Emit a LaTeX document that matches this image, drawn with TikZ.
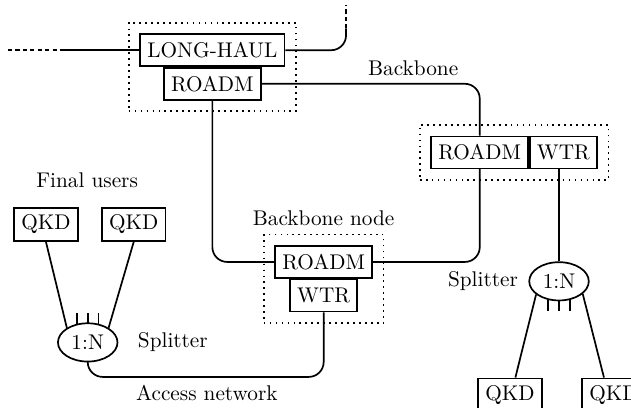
\documentclass[tikz,border=0pt]{standalone}
\usetikzlibrary{positioning,fit,shapes.geometric,calc}
\tikzset{
    dev/.style={draw, thick, minimum height=15pt},
    split/.style={draw, thick, ellipse, inner sep=1pt, minimum width=28pt, minimum height=18pt},
    site/.style={draw, thick, dotted, inner sep=5pt},
    fiber/.style={thick, rounded corners=7pt},
    cut/.style={thick, dash pattern=on 2pt off 1.5pt},
}
\begin{document}
    \begin{tikzpicture}
        \useasboundingbox (0,0) rectangle (10.43,6.73);
        \clip (0,0) rectangle (10.43,6.73);

        % long-haul site
        \node[dev] (lh) at (3.51,5.90) {LONG-HAUL};
        \node[dev, below=0pt of lh] (r1) {ROADM};
        \node[site, fit=(lh) (r1)] (f1) {};

        % backbone sites
        \node[dev] (r2) at (7.93,4.21) {ROADM};
        \node[dev, right=0pt of r2] (w2) {WTR};
        \node[site, fit=(r2) (w2)] (f2) {};
        \node[dev] (r3) at (5.35,2.40) {ROADM};
        \node[dev, below=0pt of r3] (w3) {WTR};
        \node[site, fit=(r3) (w3)] (f3) {};
        \node[above=0pt of f3] (bbn) {Backbone node};
        \node (bb) at (6.83,5.60) {Backbone};

        % access side
        \node[split] (s1) at (1.45,1.07) {1:N};
        \node[split] (s2) at (9.24,2.08) {1:N};
        \node[right=0.2cm of s1] (sp1) {Splitter};
        \node[left=0.05cm of s2] (sp2) {Splitter};
        \node[dev] (q1) at (0.76,3.02) {QKD};
        \node[dev] (q2) at (2.21,3.02) {QKD};
        \node[dev] (q3) at (8.43,0.20) {QKD};
        \node[dev] (q4) at (10.15,0.20) {QKD};
        \node (fu) at (1.44,3.75) {Final users};
        \node (an) at (3.42,0.23) {Access network};

        \coordinate (far) at (0.13,5.90);
        \coordinate (near) at (0.99,5.90);
        \coordinate (up) at (5.72,6.26);
        \coordinate (upend) at (5.72,6.64);
        \coordinate (acc) at (1.45,0.50);

        \draw[cut] (far) -- (near);
        \draw[thick] (near) -- (lh.west);
        \draw[fiber] (lh.east) -| (up);
        \draw[cut] (up) -- (upend);
        \draw[fiber] (r1.east) -| (r2.north);
        \draw[fiber] (r1.south) |- (r3.west);
        \draw[fiber] (r2.south) |- (r3.east);
        \draw[fiber] (w3.south) |- (acc) -- (s1.south);
        \draw[thick] (w2.south -| s2.north) -- (s2.north);

        \draw[thick] (q1.south) -- (s1.145);
        \draw[thick] (q2.south) -- (s1.35);
        \draw[thick] (s2.210) -- (q3.73);
        \draw[thick] (s2.332) -- (q4.120);

        \foreach \dx in {-0.18,0,0.18} {
            \draw[thick] ($(s1.north)+(\dx,-0.02)$) -- ++(0,0.18);
            \draw[thick] ($(s2.south)+(\dx,0.02)$) -- ++(0,-0.18);
        }
    \end{tikzpicture}
\end{document}
